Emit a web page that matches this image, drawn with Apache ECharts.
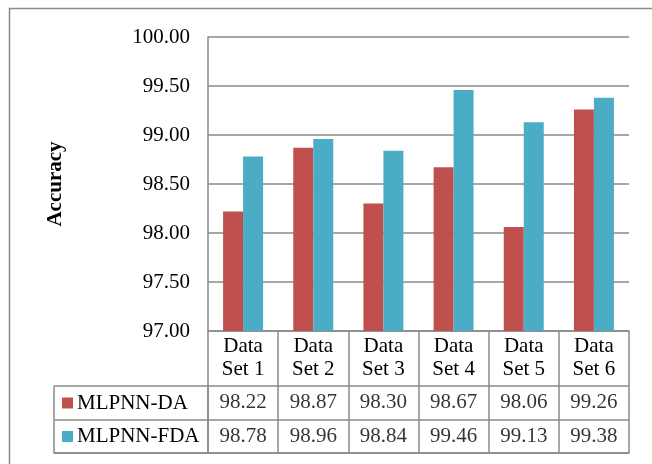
<!DOCTYPE html>
<html>
<head>
<meta charset="utf-8">
<script src="https://cdn.jsdelivr.net/npm/echarts@6/dist/echarts.min.js"></script>
<style>
  html, body { margin: 0; padding: 0; background: #fff; }
  #chart { width: 652px; height: 464px; }
</style>
</head>
<body>
<div id="chart"></div>
<script>
// data
const categories = ['Data\nSet 1', 'Data\nSet 2', 'Data\nSet 3', 'Data\nSet 4', 'Data\nSet 5', 'Data\nSet 6']
const seriesNames = ['MLPNN-DA', 'MLPNN-FDA']
const daValues = [98.22, 98.87, 98.30, 98.67, 98.06, 99.26]
const fdaValues = [98.78, 98.96, 98.84, 99.46, 99.13, 99.38]
const yTicks = [97, 97.5, 98, 98.5, 99, 99.5, 100]

const FONT = '"Liberation Serif", "DejaVu Serif", serif'
const LINE = '#8a8a8a'
const colors = ['#c0504d', '#4bacc6']

const chart = echarts.init(document.getElementById('chart'))

// table cell labels for one row
function tableRow (name, values) {
  return {
    name: name + ' table',
    type: 'scatter',
    xAxisIndex: 1,
    yAxisIndex: 1,
    symbol: 'rect',
    symbolSize: 1,
    silent: true,
    itemStyle: { color: 'rgba(0,0,0,0)' },
    label: {
      show: true,
      position: 'inside',
      fontFamily: FONT,
      fontSize: 21,
      color: '#000',
      formatter: p => p.value[2].toFixed(2)
    },
    data: values.map((v, i) => [categories[i], name, v])
  }
}

const option = {
  animation: false,
  backgroundColor: '#fff',
  graphic: [{
    type: 'rect',
    shape: { x: 9.5, y: 8.5, width: 700, height: 500 },
    style: { fill: 'none', stroke: LINE, lineWidth: 1.5 },
    silent: true
  }],
  legend: {
    data: seriesNames,
    orient: 'vertical',
    left: 62,
    top: 392,
    padding: 0,
    itemGap: 11.5,
    itemWidth: 11,
    itemHeight: 11,
    icon: 'rect',
    selectedMode: false,
    textStyle: { fontFamily: FONT, fontSize: 21, color: '#000', lineHeight: 22, padding: [0, 0, 0, -1] }
  },
  grid: [
    { left: 208, right: 23, top: 37, bottom: 133 }, // bars
    { left: 208, right: 23, top: 386, bottom: 11 }, // value cells
    { left: 54, width: 154, top: 386, bottom: 11 } // legend column
  ],
  xAxis: [
    {
      type: 'category',
      gridIndex: 0,
      data: categories,
      axisLine: { lineStyle: { color: LINE, width: 1.5 } },
      axisTick: { show: true, length: 55, lineStyle: { color: LINE, width: 1.5 } },
      axisLabel: { interval: 0, margin: 4, fontFamily: FONT, fontSize: 21, lineHeight: 23, color: '#000' }
    },
    {
      type: 'category',
      gridIndex: 1,
      data: categories,
      axisLine: { show: true, lineStyle: { color: LINE, width: 1.5 } },
      axisTick: { show: false },
      axisLabel: { show: false },
      splitLine: { show: true, interval: 0, lineStyle: { color: LINE, width: 1.5 } }
    },
    {
      type: 'value',
      gridIndex: 2,
      min: 0,
      max: 1,
      interval: 1,
      axisLine: { show: true, lineStyle: { color: LINE, width: 1.5 } },
      axisTick: { show: false },
      axisLabel: { show: false },
      splitLine: { show: true, lineStyle: { color: LINE, width: 1.5 } }
    }
  ],
  yAxis: [
    {
      type: 'value',
      gridIndex: 0,
      min: yTicks[0],
      max: yTicks[yTicks.length - 1],
      interval: 0.5,
      name: 'Accuracy',
      nameLocation: 'middle',
      nameRotate: 90,
      nameGap: 142,
      nameTextStyle: { fontFamily: FONT, fontSize: 21, fontWeight: 'bold', color: '#000' },
      axisLine: { show: true, lineStyle: { color: LINE, width: 1.5 } },
      axisTick: { show: false },
      axisLabel: { margin: 18, fontFamily: FONT, fontSize: 21, color: '#000', formatter: v => v.toFixed(2) },
      splitLine: { lineStyle: { color: LINE, width: 1.5 } }
    },
    {
      type: 'category',
      gridIndex: 1,
      data: seriesNames,
      inverse: true,
      axisLine: { show: false },
      axisTick: { show: false },
      axisLabel: { show: false },
      splitLine: { show: true, interval: 0, lineStyle: { color: LINE, width: 1.5 } }
    },
    {
      type: 'category',
      gridIndex: 2,
      data: seriesNames,
      inverse: true,
      axisLine: { show: false },
      axisTick: { show: false },
      axisLabel: { show: false },
      splitLine: { show: true, interval: 0, lineStyle: { color: LINE, width: 1.5 } }
    }
  ],
  series: [
    { name: seriesNames[0], type: 'bar', data: daValues, barWidth: 20, barGap: '0%', itemStyle: { color: colors[0] } },
    { name: seriesNames[1], type: 'bar', data: fdaValues, barWidth: 20, barGap: '0%', itemStyle: { color: colors[1] } },
    tableRow(seriesNames[0], daValues),
    tableRow(seriesNames[1], fdaValues)
  ]
}

chart.setOption(option)
</script>
</body>
</html>
